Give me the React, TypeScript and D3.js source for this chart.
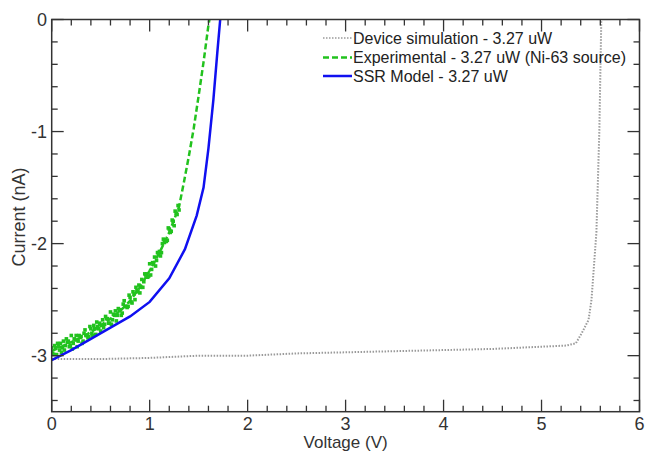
import React from "react";
import * as d3 from "d3";

// Device simulation (gray dotted)
const simV = [0, 0.5, 1.0, 1.5, 2.0, 2.5, 3.0, 3.5, 4.0, 4.5, 5.0, 5.25, 5.35, 5.41, 5.48, 5.51, 5.56, 5.59, 5.61];
const simI = [-3.03, -3.03, -3.02, -3.0, -3.0, -2.98, -2.97, -2.96, -2.95, -2.94, -2.92, -2.91, -2.89, -2.8, -2.68, -2.5, -1.9, -1.0, 0];

// SSR model (blue solid)
const ssrV = [0, 0.2, 0.4, 0.6, 0.8, 1.0, 1.2, 1.36, 1.48, 1.55, 1.6, 1.65, 1.69, 1.72];
const ssrI = [-3.04, -2.95, -2.85, -2.75, -2.65, -2.52, -2.31, -2.05, -1.75, -1.5, -1.15, -0.72, -0.3, 0];

// Experimental trend (green dashed)
const expLineV = [0, 0.1, 0.2, 0.3, 0.4, 0.5, 0.6, 0.7, 0.8, 0.9, 1.0, 1.1, 1.2, 1.3, 1.35, 1.4, 1.45, 1.5, 1.55, 1.6, 1.61];
const expLineI = [-2.96, -2.92, -2.88, -2.84, -2.79, -2.73, -2.67, -2.6, -2.51, -2.39, -2.24, -2.08, -1.9, -1.67, -1.45, -1.22, -0.97, -0.68, -0.38, -0.05, 0];

// Experimental measured points (green squares)
const expPtV = [
  0.00, 0.01, 0.02, 0.03, 0.04, 0.05, 0.06, 0.07, 0.08, 0.09, 0.10, 0.11, 0.12, 0.13, 0.14, 0.15, 0.16, 0.17, 0.18, 0.19,
  0.20, 0.21, 0.22, 0.23, 0.24, 0.25, 0.26, 0.27, 0.28, 0.29, 0.30, 0.31, 0.32, 0.33, 0.34, 0.35, 0.36, 0.37, 0.38, 0.39,
  0.40, 0.41, 0.42, 0.43, 0.44, 0.45, 0.46, 0.47, 0.48, 0.49, 0.50, 0.51, 0.52, 0.53, 0.54, 0.55, 0.56, 0.57, 0.58, 0.59,
  0.60, 0.61, 0.62, 0.63, 0.64, 0.65, 0.66, 0.67, 0.68, 0.69, 0.70, 0.71, 0.72, 0.73, 0.74, 0.75, 0.76, 0.77, 0.78, 0.79,
  0.80, 0.81, 0.82, 0.83, 0.84, 0.85, 0.86, 0.87, 0.88, 0.89, 0.90, 0.91, 0.92, 0.93, 0.94, 0.95, 0.96, 0.97, 0.98, 0.99,
  1.00, 1.01, 1.02, 1.03, 1.04, 1.05, 1.06, 1.07, 1.08, 1.09, 1.10, 1.11, 1.12, 1.13, 1.14, 1.15, 1.16, 1.17, 1.18, 1.19,
  1.20, 1.21, 1.22, 1.23, 1.24, 1.25, 1.26, 1.27, 1.28, 1.29, 1.30,
];
const expPtI = [
  -2.93, -2.98, -2.99, -2.91, -2.93, -2.99, -2.89, -2.92, -2.95, -2.89, -2.97, -2.93, -2.87, -2.95, -2.91, -2.85, -2.88, -2.87, -2.92, -2.91,
  -2.82, -2.94, -2.89, -2.85, -2.86, -2.82, -2.92, -2.87, -2.82, -2.83, -2.83, -2.89, -2.87, -2.80, -2.77, -2.82, -2.82, -2.84, -2.83, -2.74,
  -2.76, -2.80, -2.82, -2.73, -2.76, -2.81, -2.70, -2.74, -2.76, -2.71, -2.78, -2.73, -2.68, -2.75, -2.72, -2.65, -2.67, -2.67, -2.71, -2.71,
  -2.61, -2.72, -2.68, -2.63, -2.64, -2.60, -2.69, -2.64, -2.58, -2.60, -2.59, -2.64, -2.62, -2.54, -2.51, -2.56, -2.56, -2.57, -2.56, -2.46,
  -2.48, -2.52, -2.53, -2.43, -2.45, -2.50, -2.39, -2.42, -2.43, -2.37, -2.44, -2.39, -2.32, -2.39, -2.34, -2.27, -2.28, -2.27, -2.30, -2.29,
  -2.18, -2.28, -2.23, -2.17, -2.18, -2.12, -2.20, -2.15, -2.08, -2.09, -2.07, -2.11, -2.08, -2.00, -1.96, -1.99, -1.98, -1.98, -1.97, -1.86,
  -1.87, -1.90, -1.89, -1.79, -1.80, -1.84, -1.71, -1.73, -1.74, -1.66, -1.70,
];

const xTicks = [0, 1, 2, 3, 4, 5, 6];
const yTicks = [0, -1, -2, -3];
const legendLabels = [
  "Device simulation - 3.27 uW",
  "Experimental - 3.27 uW (Ni-63 source)",
  "SSR Model - 3.27 uW",
];

const W = 646;
const H = 452;
const L = 51.7, R = 639.5, T = 19.5, B = 411.7;
const FONT = "'Liberation Sans', Arial, sans-serif";
const AX = "#333";

export default function App() {
  const x = d3.scaleLinear().domain([0, 6]).range([L, R]);
  const y = d3.scaleLinear().domain([-3.5, 0]).range([B, T]);
  const line = (vs: number[], is: number[]) =>
    d3.line<number>().x((_, i) => x(vs[i])).y((_, i) => y(is[i]))(vs) || "";

  const xMinor = d3.range(0, 30.5).map((k) => k * 0.2);
  const yMinor = d3.range(0, 17.5).map((k) => -k * 0.2);
  const isMajor = (v: number) => Math.abs(v - Math.round(v)) < 1e-6;
  const MJ = 12, MN = 6;

  const legendColors = ["#9a9a9a", "#22c21e", "#1010f0"];
  const legendDash = ["1.5,1.5", "6,3", ""];
  const legendY = [38, 57.5, 76];

  return (
    <svg width={W} height={H} style={{ position: "absolute", left: 0, top: 0, background: "#fff" }}>
      <defs>
        <clipPath id="plot">
          <rect x={L} y={T} width={R - L} height={B - T} />
        </clipPath>
      </defs>
      <g clipPath="url(#plot)">
        <path d={line(simV, simI)} fill="none" stroke="#9a9a9a" strokeWidth={2} strokeDasharray="1.5,1.5" />
        {expPtV.map((v, i) => (
          <rect key={i} x={x(v) - 1.8} y={y(expPtI[i]) - 1.8} width={3.6} height={3.6} fill="#22c21e" />
        ))}
        <path d={line(expLineV, expLineI)} fill="none" stroke="#22c21e" strokeWidth={2.5} strokeDasharray="6,3" />
        <path d={line(ssrV, ssrI)} fill="none" stroke="#1010f0" strokeWidth={2.5} />
      </g>

      {/* frame */}
      <rect x={L} y={T} width={R - L} height={B - T} fill="none" stroke={AX} strokeWidth={1.5} />

      {/* ticks on all four sides, pointing inward */}
      {xMinor.map((v, i) => {
        const len = isMajor(v) ? MJ : MN;
        return (
          <g key={"xt" + i} stroke={AX} strokeWidth={1.3}>
            <line x1={x(v)} x2={x(v)} y1={B} y2={B - len} />
            <line x1={x(v)} x2={x(v)} y1={T} y2={T + len} />
          </g>
        );
      })}
      {yMinor.map((v, i) => {
        const len = isMajor(v) ? MJ : MN;
        return (
          <g key={"yt" + i} stroke={AX} strokeWidth={1.3}>
            <line x1={L} x2={L + len} y1={y(v)} y2={y(v)} />
            <line x1={R} x2={R - len} y1={y(v)} y2={y(v)} />
          </g>
        );
      })}

      {xTicks.map((v) => (
        <text key={"xl" + v} x={x(v)} y={430} textAnchor="middle" fontFamily={FONT} fontSize={18} fill={AX}>
          {v}
        </text>
      ))}
      {yTicks.map((v) => (
        <text key={"yl" + v} x={47} y={y(v) + 6.5} textAnchor="end" fontFamily={FONT} fontSize={18} fill={AX}>
          {v}
        </text>
      ))}

      <text x={(L + R) / 2} y={448} textAnchor="middle" fontFamily={FONT} fontSize={17} fill={AX}>
        Voltage (V)
      </text>
      <text
        transform={`translate(25,217) rotate(-90)`}
        textAnchor="middle"
        fontFamily={FONT}
        fontSize={18}
        fill={AX}
      >
        Current (nA)
      </text>

      {legendLabels.map((lab, i) => (
        <g key={"lg" + i}>
          <line
            x1={323}
            x2={352}
            y1={legendY[i]}
            y2={legendY[i]}
            stroke={legendColors[i]}
            strokeWidth={i === 0 ? 1.5 : 2.5}
            strokeDasharray={legendDash[i] || undefined}
          />
          <text x={353} y={legendY[i] + 5.5} fontFamily={FONT} fontSize={16} fill="#222">
            {lab}
          </text>
        </g>
      ))}
    </svg>
  );
}
